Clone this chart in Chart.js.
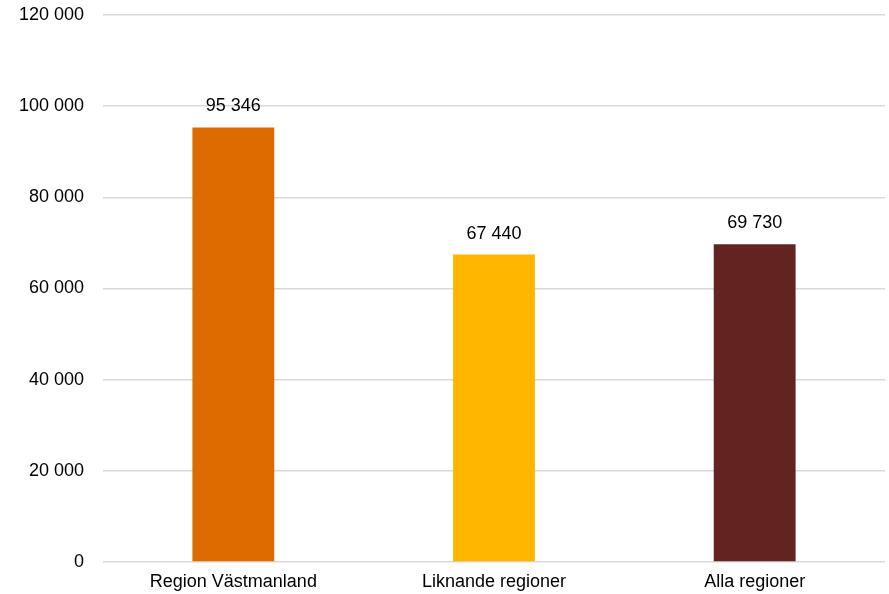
<!DOCTYPE html>
<html>
<head>
<meta charset="utf-8">
<script src="https://cdn.jsdelivr.net/npm/chart.js@4/dist/chart.umd.min.js"></script>
<style>
html,body{margin:0;padding:0;background:#fff;}
#wrap{width:889px;height:594px;position:relative;}
</style>
</head>
<body>
<div id="wrap"><canvas id="c" width="889" height="594"></canvas></div>
<script>
const categories = ["Region Västmanland", "Liknande regioner", "Alla regioner"];
const values = [95346, 67440, 69730];
const barColors = ["#DE6B00", "#FFB600", "#612420"];
const yTicks = [0, 20000, 40000, 60000, 80000, 100000, 120000];

function fmt(v){ return String(v).replace(/\B(?=(\d{3})+(?!\d))/g, " "); }
const FONT = '"Liberation Sans", Arial, sans-serif';

const valueLabels = {
  id: 'valueLabels',
  afterDatasetsDraw(chart){
    const ctx = chart.ctx;
    const meta = chart.getDatasetMeta(0);
    ctx.save();
    ctx.font = '18px ' + FONT;
    ctx.fillStyle = '#000';
    ctx.textAlign = 'center';
    ctx.textBaseline = 'bottom';
    meta.data.forEach((bar, i) => {
      ctx.fillText(fmt(values[i]), bar.x, bar.y - 12);
    });
    ctx.restore();
  }
};

new Chart(document.getElementById('c'), {
  type: 'bar',
  data: {
    labels: categories,
    datasets: [{
      data: values,
      backgroundColor: barColors,
      borderWidth: 0,
      categoryPercentage: 1,
      barPercentage: 0.314
    }]
  },
  options: {
    responsive: false,
    animation: false,
    layout: { padding: { left: 0, right: 4, top: 0, bottom: 0 } },
    plugins: { legend: { display: false }, tooltip: { enabled: false } },
    scales: {
      x: {
        grid: { display: false, drawTicks: false },
        border: { display: false },
        afterFit(axis){ axis.height = 32; },
        ticks: { color: '#000', padding: 9, font: { family: FONT, size: 18 } }
      },
      y: {
        min: 0, max: 120000,
        afterBuildTicks(axis){ axis.ticks = yTicks.map(v => ({value: v})); },
        afterFit(axis){ axis.width = 103; axis.paddingTop = 15; axis.paddingBottom = 0; },
        grid: { color: '#d9d9d9', lineWidth: 1.5, drawTicks: false },
        border: { display: false },
        ticks: { color: '#000', padding: 19, callback: v => fmt(v), font: { family: FONT, size: 18 } }
      }
    }
  },
  plugins: [valueLabels]
});
</script>
</body>
</html>
